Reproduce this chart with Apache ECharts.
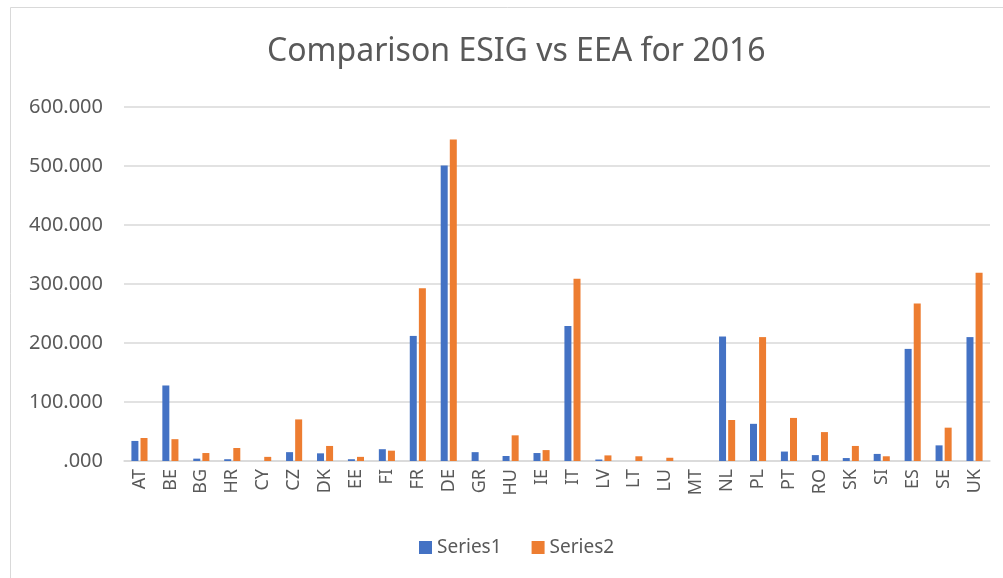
<!DOCTYPE html>
<html>
<head>
<meta charset="utf-8">
<script src="https://cdn.jsdelivr.net/npm/echarts@6/dist/echarts.min.js"></script>
<style>
html,body{margin:0;padding:0;background:#fff;}
#chart{width:1003px;height:578px;}
</style>
</head>
<body>
<div id="chart"></div>
<script>
const categories = ['AT','BE','BG','HR','CY','CZ','DK','EE','FI','FR','DE','GR','HU','IE','IT','LV','LT','LU','MT','NL','PL','PT','RO','SK','SI','ES','SE','UK'];
const series1 = [34,128,4,3,0,15,13,3,20,212,501,15,8.5,13.5,229,2.5,0,0,0,211,63,16,10,5,12,190,26.5,210];
const series2 = [39,37,13.5,22,7,70.5,25.5,7,17.5,293,545,0,43.5,18.5,309,9.5,8,5.5,0,69.5,210,73,49,25.5,8,267,56.5,319];
const yTicks = [0,100,200,300,400,500,600];
const yTickLabels = ['.000','100.000','200.000','300.000','400.000','500.000','600.000'];
const seriesNames = ['Series1','Series2'];
const titleText = 'Comparison ESIG vs EEA for 2016';

const font = 'Noto Sans';
const txt = '#595959';
const chart = echarts.init(document.getElementById('chart'));
chart.setOption({
  animation:false,
  backgroundColor:'#fff',
  graphic:[{type:'rect',shape:{x:10.5,y:7.5,width:1000,height:580},style:{fill:'none',stroke:'#d9d9d9',lineWidth:1},silent:true,z:-1}],
  title:{text:titleText,left:262,top:31,textStyle:{fontFamily:font,fontSize:32,fontWeight:'normal',color:txt}},
  legend:{bottom:16,left:414,itemWidth:13,itemHeight:13,itemGap:30,icon:'rect',
    textStyle:{fontFamily:font,fontSize:19,color:txt},data:seriesNames},
  grid:{left:124,right:13,top:107,bottom:117},
  xAxis:{type:'category',data:categories,
    axisLine:{lineStyle:{color:'#d9d9d9',width:1.5}},axisTick:{show:false},
    axisLabel:{rotate:90,fontFamily:font,fontSize:18,color:txt,margin:8,interval:0}},
  yAxis:{type:'value',min:0,max:600,interval:100,
    axisLine:{show:false},axisTick:{show:false},
    splitLine:{lineStyle:{color:'#d9d9d9',width:1.5}},
    axisLabel:{fontFamily:font,fontSize:20,color:txt,margin:21,
      formatter:v=>yTickLabels[yTicks.indexOf(v)]}},
  series:[
    {name:seriesNames[0],type:'bar',data:series1,barWidth:7,barGap:'30%',itemStyle:{color:'#4472C4'}},
    {name:seriesNames[1],type:'bar',data:series2,barWidth:7,barGap:'30%',itemStyle:{color:'#ED7D31'}}
  ]
});
</script>
</body>
</html>
